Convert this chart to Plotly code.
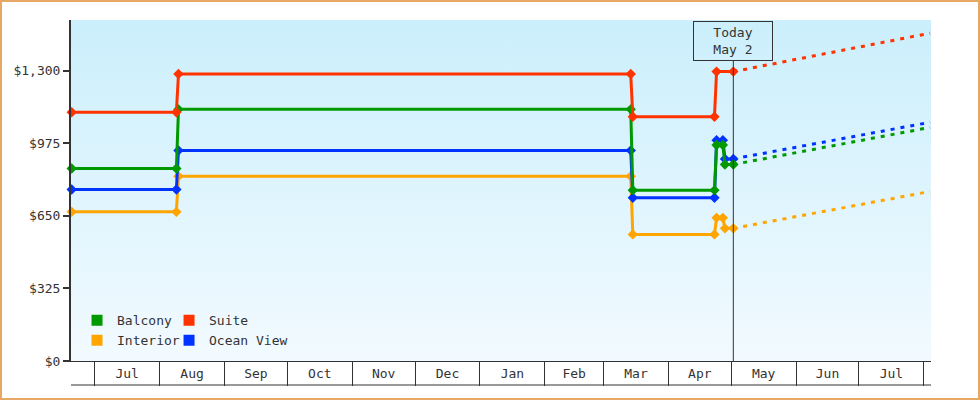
import plotly.graph_objects as go

# ---- data ----
step_dates = ["2024-06-20", "2024-08-09", "2024-08-10", "2025-03-14", "2025-03-15",
              "2025-04-23", "2025-04-24", "2025-04-27", "2025-04-28", "2025-05-02"]
balcony = [862, 862, 1127, 1127, 765, 765, 967, 967, 880, 880]
ocean_view = [768, 768, 943, 943, 731, 731, 989, 989, 905, 905]
interior = [668, 668, 827, 827, 567, 567, 641, 641, 594, 594]

suite_dates = ["2024-06-20", "2024-08-09", "2024-08-10", "2025-03-14", "2025-03-15",
               "2025-04-23", "2025-04-24", "2025-05-02"]
suite = [1114, 1114, 1285, 1285, 1094, 1094, 1296, 1296]

forecast_dates = ["2025-05-02", "2025-08-04"]
forecast_suite = [1296, 1468]
forecast_ocean = [905, 1069]
forecast_balcony = [880, 1046]
forecast_interior = [594, 759]

today = "2025-05-02"
y_ticks = [0, 325, 650, 975, 1300]

# ---- style ----
FONT = "DejaVu Sans Mono"
TXT = "#333333"
COLORS = {"Balcony": "#009900", "Suite": "#ff3300", "Interior": "#ffa500", "Ocean View": "#0033ff"}
X_RANGE = ["2024-06-19 16:00", "2025-08-04 10:00"]
Y_TOP = 1527

fig = go.Figure()

# gradient plot background
fig.add_trace(go.Scatter(
    x=[X_RANGE[0], X_RANGE[1], X_RANGE[1], X_RANGE[0], X_RANGE[0]],
    y=[0, 0, Y_TOP, Y_TOP, 0], mode="lines", line=dict(width=0),
    fill="toself",
    fillgradient=dict(type="vertical", colorscale=[[0, "#f2faff"], [1, "#cbeffc"]]),
    hoverinfo="skip", showlegend=False))

series = [
    ("Interior", step_dates, interior, forecast_interior),
    ("Ocean View", step_dates, ocean_view, forecast_ocean),
    ("Balcony", step_dates, balcony, forecast_balcony),
    ("Suite", suite_dates, suite, forecast_suite),
]
for name, d, v, f in series:
    c = COLORS[name]
    fig.add_trace(go.Scatter(x=forecast_dates, y=f, mode="lines",
                             line=dict(color=c, width=3, dash="4px,6px"),
                             showlegend=False, hoverinfo="skip", cliponaxis=False))
    fig.add_trace(go.Scatter(x=d, y=v, mode="lines+markers", name=name,
                             line=dict(color=c, width=3),
                             marker=dict(symbol="diamond", size=8, color=c),
                             showlegend=False, cliponaxis=False))

# legend entries (2 x 2 grid via two legends)
for name, lg in [("Balcony", "legend"), ("Interior", "legend"),
                 ("Suite", "legend2"), ("Ocean View", "legend2")]:
    fig.add_trace(go.Scatter(x=[None], y=[None], mode="markers", name=name,
                             marker=dict(symbol="square", size=11, color=COLORS[name]),
                             legend=lg))

fig.add_annotation(x=today, y=0, xref="x", yref="y", text="Today<br>May 2",
                   showarrow=True, ax=0, ay=-320, axref="pixel", ayref="pixel",
                   arrowhead=0, arrowwidth=1, arrowcolor=TXT, standoff=0,
                   bordercolor=TXT, borderwidth=1, borderpad=2, width=74, height=34,
                   font=dict(family=FONT, size=13, color=TXT))

# bottom line of the month cells
fig.add_shape(type="line", xref="paper", yref="paper", x0=0, x1=1,
              y0=-0.0704, y1=-0.0704, line=dict(color=TXT, width=1))
# outer border
fig.add_shape(type="rect", xref="paper", yref="paper",
              x0=-0.0814, x1=1.0558, y0=-0.1114, y1=1.0557,
              line=dict(color="#e8a865", width=2))

legend_common = dict(bgcolor="rgba(0,0,0,0)", font=dict(family=FONT, size=13, color=TXT),
                     xanchor="left", yanchor="top", orientation="v", itemsizing="trace",
                     tracegroupgap=0)
fig.update_layout(
    width=980, height=400,
    margin=dict(l=71, r=49, t=20, b=39),
    paper_bgcolor="white", plot_bgcolor="rgba(0,0,0,0)",
    font=dict(family=FONT, size=13, color=TXT),
    legend=dict(x=0.007, y=0.163, **legend_common),
    legend2=dict(x=0.114, y=0.163, **legend_common),
    xaxis=dict(type="date", range=X_RANGE, tick0="2024-07-01", dtick="M1",
               tickformat="%b", ticklabelmode="period", ticks="outside", ticklen=24,
               tickwidth=1, tickcolor=TXT, showline=True, linecolor=TXT, linewidth=1,
               showgrid=False, zeroline=False, ticklabelstandoff=-24,
               tickfont=dict(family=FONT, size=13, color=TXT)),
    yaxis=dict(range=[0, Y_TOP], tickvals=y_ticks, tickformat="$,",
               ticks="outside", ticklen=6, tickwidth=2, tickcolor=TXT,
               showline=True, linecolor=TXT, linewidth=2, showgrid=False, zeroline=False,
               tickfont=dict(family=FONT, size=13, color=TXT)),
    showlegend=True,
)

fig.write_html("out.html", config={"displayModeBar": False},
               post_script="document.body.style.margin='0';")
